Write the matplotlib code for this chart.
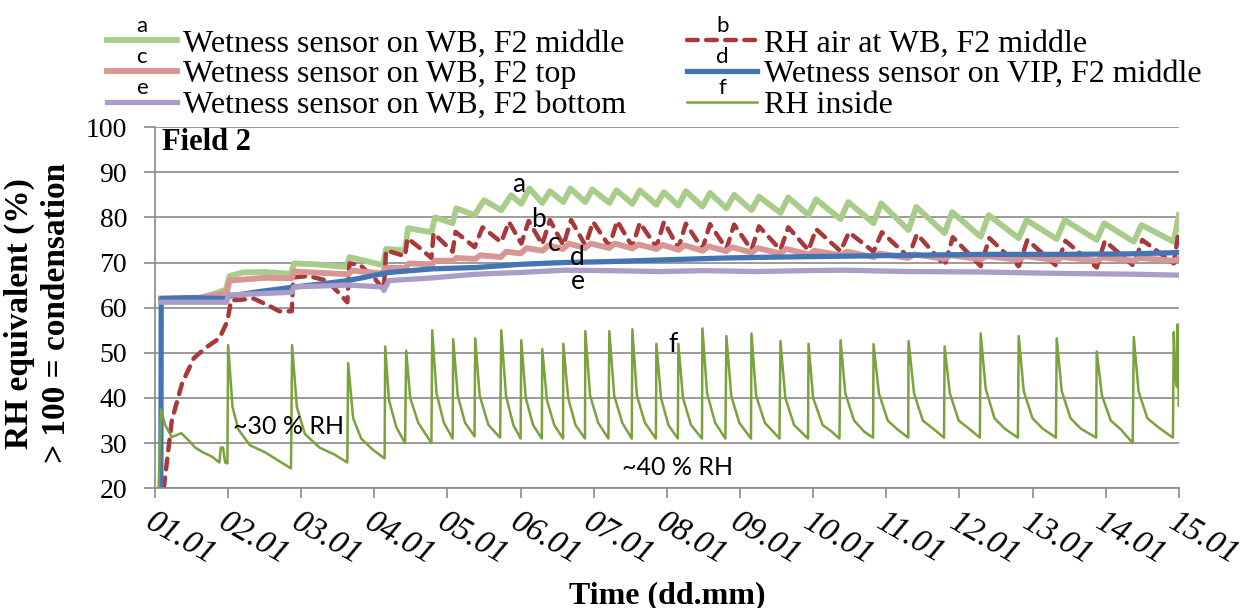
import matplotlib
matplotlib.use("Agg")
import matplotlib.pyplot as plt

# time axis: days after 01.01
day_ticks = list(range(15))
day_labels = ["%02d.01" % (d + 1) for d in day_ticks]

# a: wetness sensor on WB, F2 middle
a_day = [0.08, 0.6, 0.8, 0.97, 1.02, 1.2, 1.5, 1.86, 1.9, 2.2, 2.62, 2.66, 3.12, 3.16,
         3.42, 3.46, 3.78, 3.83, 4.07, 4.12, 4.37, 4.50, 4.735, 4.87, 5.009, 5.12,
         5.296, 5.40, 5.584, 5.68, 5.885, 5.98, 6.213, 6.31, 6.528, 6.63, 6.856, 6.96,
         7.157, 7.26, 7.486, 7.59, 7.814, 7.92, 8.157, 8.26, 8.553, 8.66, 8.937, 9.04,
         9.375, 9.48, 9.826, 9.93, 10.305, 10.41, 10.798, 10.90, 11.291, 11.40, 11.811,
         11.92, 12.331, 12.44, 12.878, 12.98, 13.385, 13.49, 13.932, 14.0]
a_rh = [62.0, 62.1, 63.0, 64.0, 67.0, 67.8, 67.9, 67.5, 69.8, 69.6, 69.0, 71.2, 69.4, 73.0,
        72.7, 77.6, 76.7, 80.0, 78.7, 82.0, 80.5, 83.8, 81.6, 84.9, 83.0, 86.4,
        83.2, 85.8, 83.4, 86.4, 83.4, 86.2, 83.2, 86.0, 83.0, 86.0, 82.8, 85.6,
        82.6, 85.8, 82.4, 85.4, 82.0, 85.0, 81.6, 84.6, 81.0, 84.4, 80.5, 84.0,
        79.6, 83.4, 78.7, 83.1, 77.2, 82.3, 76.5, 81.2, 75.7, 80.5, 75.4,
        79.4, 75.2, 79.4, 75.0, 78.7, 74.6, 78.3, 74.6, 80.5]

# b: RH air at WB, F2 middle
b_day = [0.12, 0.23, 0.37, 0.53, 0.70, 0.88, 0.99, 1.04, 1.2, 1.35, 1.55, 1.7, 1.87, 1.89,
         2.1, 2.35, 2.5, 2.63, 2.66, 2.8, 3.0, 3.13, 3.16, 3.42, 3.45, 3.6, 3.78, 3.81,
         4.07, 4.11, 4.37, 4.48, 4.735, 4.84, 5.009, 5.11, 5.296, 5.40, 5.584, 5.69,
         5.885, 5.99, 6.213, 6.32, 6.528, 6.63, 6.856, 6.96, 7.157, 7.26, 7.486, 7.59,
         7.814, 7.92, 8.157, 8.26, 8.553, 8.66, 8.937, 9.04, 9.375, 9.49, 9.826, 9.94,
         10.305, 10.42, 10.798, 10.91, 11.291, 11.41, 11.811, 11.93, 12.331, 12.45,
         12.878, 12.99, 13.385, 13.50, 13.932, 14.0]
b_rh = [20.0, 35.0, 43.2, 48.8, 51.2, 53.2, 57.0, 61.6, 61.8, 62.0, 60.5, 59.2, 59.2, 66.7,
        67.0, 66.0, 63.5, 61.2, 69.8, 69.5, 66.5, 64.0, 72.7, 71.4, 75.4, 73.5, 71.0, 76.5,
        72.4, 76.8, 73.4, 77.8, 74.5, 79.0, 74.2, 79.2, 74.0, 79.4, 73.8, 79.4,
        73.8, 79.0, 73.6, 79.2, 73.5, 78.8, 73.4, 79.0, 73.2, 78.6, 73.0, 78.5,
        73.0, 78.4, 72.8, 78.0, 72.8, 77.8, 72.7, 77.4, 72.5, 76.7, 72.4, 76.7,
        71.2, 76.3, 69.4, 75.6, 69.2, 75.4, 69.2, 75.0, 69.2, 74.8,
        68.9, 74.8, 69.2, 75.0, 69.8, 77.0]

# c: wetness sensor on WB, F2 top
c_day = [0.08, 0.6, 0.98, 1.02, 1.5, 1.87, 1.9, 2.64, 2.7, 3.1, 3.16, 3.43, 3.47, 3.79,
         3.83, 4.08, 4.12, 4.38, 4.45, 4.73, 4.8, 5.0, 5.08, 5.3, 5.38, 5.58, 5.66, 5.88,
         5.96, 6.21, 6.29, 6.53, 6.61, 6.86, 6.94, 7.16, 7.24, 7.49, 7.57, 7.81, 7.89,
         8.16, 8.24, 8.55, 8.63, 8.94, 9.02, 9.38, 9.46, 9.83, 9.9, 10.3, 10.38, 10.8,
         10.88, 11.29, 11.37, 11.81, 11.9, 12.33, 12.41, 12.88, 12.96, 13.38, 13.46,
         13.93, 14.0]
c_rh = [62.0, 62.2, 63.2, 66.0, 66.6, 66.5, 68.0, 67.4, 68.2, 67.6, 68.8, 68.8, 69.8, 69.6,
        70.4, 70.4, 71.0, 70.8, 71.6, 71.2, 72.4, 72.0, 73.2, 72.6, 73.8, 73.0, 74.2, 73.2,
        74.2, 73.2, 74.2, 73.1, 74.0, 73.0, 73.9, 72.8, 73.8, 72.6, 73.6, 72.5, 73.4,
        72.2, 73.2, 72.0, 73.0, 71.8, 72.6, 71.6, 72.4, 71.2, 72.0, 71.0, 71.8, 70.8,
        71.6, 70.7, 71.4, 70.6, 71.4, 70.5, 71.2, 70.4, 71.1, 70.4, 71.0,
        70.4, 70.8]

# d: wetness sensor on VIP, F2 middle
d_day = [0.08, 0.085, 0.5, 0.98, 1.0, 1.4, 1.87, 2.3, 2.64, 3.2, 3.8, 4.4, 5.0, 5.6, 6.2,
         7.0, 7.8, 8.5, 9.4, 10.3, 11.3, 12.3, 13.3, 14.0]
d_rh = [20.0, 62.0, 62.2, 62.0, 62.5, 63.5, 64.5, 65.3, 66.0, 67.8, 68.6, 68.9, 69.6, 70.0,
        70.2, 70.6, 71.0, 71.2, 71.4, 71.6, 71.8, 71.8, 71.9, 72.2]

# e: wetness sensor on WB, F2 bottom
e_day = [0.08, 0.98, 1.0, 1.87, 1.9, 2.64, 3.1, 3.13, 3.2, 3.8, 4.38, 5.0, 5.6, 6.2, 6.9,
         7.5, 8.2, 8.9, 9.4, 10.3, 11.3, 12.3, 13.4, 14.0]
e_rh = [61.2, 61.2, 62.8, 63.4, 64.6, 65.0, 64.6, 63.8, 66.0, 66.6, 67.4, 67.8, 68.3, 68.2,
        68.0, 68.2, 68.0, 68.2, 68.3, 68.0, 67.9, 67.6, 67.4, 67.2]

# f: RH inside
f_day = [0.05, 0.08, 0.14, 0.23, 0.30, 0.36, 0.46, 0.55, 0.65, 0.78, 0.88, 0.90, 0.93, 0.96, 0.99,
         1.00, 1.06, 1.14, 1.30, 1.50, 1.70, 1.86,
         1.875, 1.94, 2.05, 2.25, 2.45, 2.63,
         2.641, 2.71, 2.82, 2.98, 3.14,
         3.148, 3.20, 3.30, 3.42,
         3.435, 3.49, 3.60, 3.78,
         3.791, 3.85, 3.95, 4.07,
         4.078, 4.14, 4.24, 4.37,
         4.379, 4.44, 4.56, 4.72,
         4.735, 4.80, 4.90, 5.00,
         5.009, 5.07, 5.17, 5.29,
         5.296, 5.36, 5.46, 5.58,
         5.584, 5.65, 5.75, 5.88,
         5.885, 5.95, 6.06, 6.20,
         6.213, 6.28, 6.39, 6.52,
         6.528, 6.59, 6.70, 6.85,
         6.856, 6.92, 7.02, 7.15,
         7.157, 7.22, 7.33, 7.48,
         7.486, 7.55, 7.66, 7.80,
         7.814, 7.88, 7.99, 8.15,
         8.157, 8.22, 8.34, 8.54,
         8.553, 8.62, 8.74, 8.93,
         8.937, 9.00, 9.13, 9.25, 9.36,
         9.375, 9.44, 9.56, 9.70, 9.82,
         9.826, 9.90, 10.02, 10.14, 10.30,
         10.305, 10.38, 10.50, 10.64, 10.79,
         10.798, 10.87, 10.99, 11.13, 11.28,
         11.291, 11.36, 11.48, 11.62, 11.80,
         11.811, 11.88, 12.00, 12.14, 12.32,
         12.331, 12.40, 12.52, 12.66, 12.87,
         12.878, 12.95, 13.07, 13.21, 13.37,
         13.385, 13.45, 13.57, 13.72, 13.92,
         13.932, 13.955, 13.975, 13.985, 14.0]
f_rh = [20.0, 37.5, 34.0, 31.3, 31.8, 32.2, 30.6, 29.0, 28.0, 27.0, 25.7, 29.0, 29.0, 25.7, 25.5,
        51.7, 38.0, 33.0, 29.5, 28.0, 26.0, 24.4,
        51.7, 38.0, 32.0, 29.0, 27.5, 25.7,
        47.7, 35.5, 31.0, 28.5, 26.6,
        51.4, 39.5, 33.5, 30.0,
        50.5, 40.0, 34.5, 30.0,
        55.0, 41.0, 34.5, 31.0,
        53.0, 40.5, 34.5, 31.5,
        53.2, 40.5, 34.0, 31.2,
        55.0, 40.5, 34.0, 31.0,
        52.8, 40.0, 34.0, 31.0,
        50.8, 39.5, 34.0, 31.0,
        52.0, 40.0, 34.0, 31.0,
        54.8, 40.5, 34.5, 31.0,
        54.8, 40.5, 34.5, 31.0,
        55.2, 40.5, 34.5, 31.0,
        52.0, 40.0, 34.0, 31.0,
        52.0, 40.0, 34.0, 31.0,
        55.4, 41.0, 34.5, 31.0,
        53.7, 40.5, 34.5, 31.0,
        54.3, 40.5, 34.5, 31.0,
        52.6, 40.0, 34.0, 31.0,
        52.0, 40.0, 34.0, 32.6, 31.0,
        52.8, 41.0, 35.0, 32.5, 31.2,
        51.9, 41.0, 35.0, 33.2, 31.2,
        52.6, 41.0, 35.0, 33.2, 31.2,
        51.4, 41.0, 35.0, 33.2, 31.2,
        54.3, 42.0, 35.5, 33.2, 31.2,
        53.7, 41.5, 35.5, 33.2, 31.2,
        53.2, 41.5, 35.5, 33.2, 31.2,
        50.3, 40.5, 35.0, 33.0, 30.0,
        53.5, 41.5, 35.5, 33.5, 31.2,
        54.6, 44.0, 42.5, 56.3, 38.3]

labels = ["Wetness sensor on WB, F2 middle", "RH air at WB, F2 middle",
          "Wetness sensor on WB, F2 top", "Wetness sensor on VIP, F2 middle",
          "Wetness sensor on WB, F2 bottom", "RH inside"]
letters = ["a", "b", "c", "d", "e", "f"]

serif = "Liberation Serif"
sans = "Lato"
grey = "#8a8a8a"

fig = plt.figure(figsize=(12.54, 6.08), dpi=100)
ax = fig.add_axes([0.1236, 0.197, 0.8164, 0.594])

la, = ax.plot(a_day, a_rh, color="#a9cc8b", lw=4.2, solid_joinstyle="round")
lb, = ax.plot(b_day, b_rh, color="#a9383a", lw=3.2, dashes=(2.4, 1.9),
              dash_capstyle="round")
lc, = ax.plot(c_day, c_rh, color="#d99694", lw=4.2, solid_joinstyle="round")
ld, = ax.plot(d_day, d_rh, color="#4374b5", lw=3.8, solid_joinstyle="round")
le, = ax.plot(e_day, e_rh, color="#ab9cc8", lw=3.8, solid_joinstyle="round")
lf, = ax.plot(f_day, f_rh, color="#7aa23d", lw=1.8)

ax.set_xlim(0, 14)
ax.set_ylim(20, 100)
ax.set_yticks(range(20, 101, 10))
ax.set_xticks(day_ticks)
ax.set_xticklabels(day_labels, rotation=-30, ha="left", va="top",
                   rotation_mode="anchor", fontstyle="italic",
                   fontfamily=serif, fontsize=24)
for t in ax.get_yticklabels():
    t.set_fontfamily(serif)
    t.set_fontsize(20)
ax.yaxis.grid(True, color=grey, lw=1.2)
ax.set_axisbelow(True)
for s in ["top", "right"]:
    ax.spines[s].set_visible(False)
for s in ["left", "bottom"]:
    ax.spines[s].set_color(grey)
    ax.spines[s].set_linewidth(1.2)
ax.tick_params(axis="y", length=8, width=1.2, color=grey, pad=12)
ax.tick_params(axis="x", length=7, width=1.2, color=grey, pad=6)

ax.set_xlabel("Time (dd.mm)", fontfamily=serif, fontweight="bold", fontsize=23)
ax.xaxis.set_label_coords(0.5, -0.258)
ax.set_ylabel("RH equivalent (%)\n> 100 = condensation", fontfamily=serif,
              fontweight="bold", fontsize=24, linespacing=1.25)
ax.yaxis.set_label_coords(-0.081, 0.485)

ax.text(0.1, 96.5, "Field 2", fontfamily=serif, fontweight="bold", fontsize=22,
        ha="left", va="center")

# curve letters inside the plot
ax.text(4.98, 87.2, "a", fontfamily=sans, fontsize=19, ha="center", va="center")
ax.text(5.25, 79.5, "b", fontfamily=sans, fontsize=19, ha="center", va="center")
ax.text(5.46, 74.2, "c", fontfamily=sans, fontsize=19, ha="center", va="center")
ax.text(5.78, 71.0, "d", fontfamily=sans, fontsize=19, ha="center", va="center")
ax.text(5.78, 65.7, "e", fontfamily=sans, fontsize=19, ha="center", va="center")
ax.text(7.08, 51.8, "f", fontfamily=sans, fontsize=19, ha="center", va="center")
ax.text(1.83, 33.6, "~30 % RH", fontfamily=sans, fontsize=18, ha="center", va="center")
ax.text(7.14, 24.7, "~40 % RH", fontfamily=sans, fontsize=18, ha="center", va="center")

handles = [la, lc, le, lb, ld, lf]
leg_labels = [labels[0], labels[2], labels[4], labels[1], labels[3], labels[5]]
leg_letters = [letters[0], letters[2], letters[4], letters[1], letters[3], letters[5]]
leg = fig.legend(handles, leg_labels, ncol=2, loc="upper left",
                 bbox_to_anchor=(0.085, 0.952), frameon=False,
                 prop={"family": serif, "size": 23}, handlelength=2.2,
                 handletextpad=0.2, columnspacing=1.9, labelspacing=0.04,
                 borderpad=0, borderaxespad=0)

fig.canvas.draw()
renderer = fig.canvas.get_renderer()
W, H = fig.get_size_inches() * fig.dpi
for h, letter in zip(leg.legend_handles, leg_letters):
    bb = h.get_window_extent(renderer)
    cx = (bb.x0 + bb.x1) / 2
    cy = (bb.y0 + bb.y1) / 2
    fig.text(cx / W, (cy + 4) / H, letter, fontfamily=sans, fontsize=16,
             ha="center", va="bottom")

fig.savefig("out.png", dpi=100)
